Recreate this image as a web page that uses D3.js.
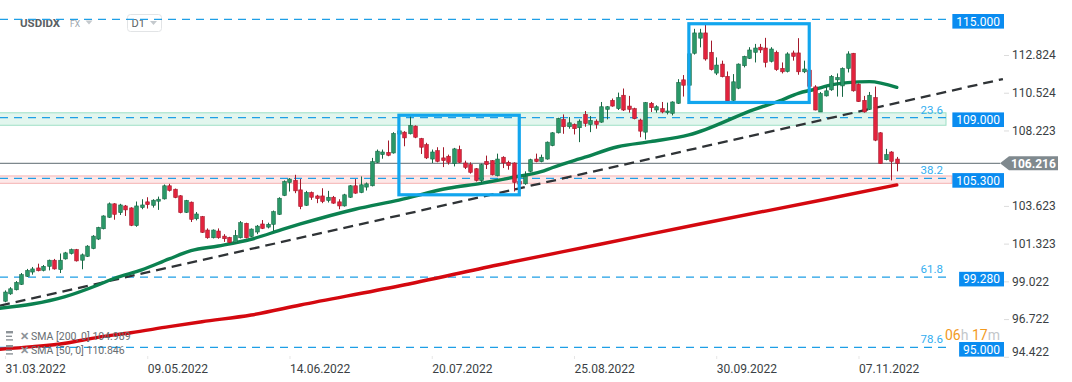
<!DOCTYPE html>
<html><head><meta charset="utf-8">
<script src="https://cdn.jsdelivr.net/npm/d3@7"></script>
<style>
html,body{margin:0;padding:0;background:#fff;}
svg{display:block;font-family:Roboto,"Open Sans",sans-serif;}
</style></head><body>
<svg id="chart" width="1072" height="382"></svg>
<script>
// ---------- DATA ----------
const opens = [97.81,98.26,98.51,98.84,99.33,99.59,99.84,99.69,99.94,100.31,99.74,100.39,100.72,100.96,100.31,100.55,101.02,101.60,102.23,102.93,
103.75,103.21,103.62,103.50,102.42,103.52,103.87,103.66,103.91,104.05,104.85,104.64,104.24,103.23,103.85,102.84,102.97,102.15,101.68,102.09,
101.78,101.70,101.39,101.68,102.56,101.76,102.03,102.52,102.33,102.50,103.11,104.26,105.05,105.18,104.60,103.66,104.44,104.23,104.23,103.95,
104.15,103.87,103.62,104.15,104.85,104.44,104.77,104.85,106.28,106.75,106.89,106.85,108.00,108.12,108.02,108.49,107.73,107.36,106.48,106.99,
106.55,106.65,106.20,107.06,106.24,106.14,105.89,105.16,106.34,106.38,105.46,106.59,106.28,106.24,105.10,104.97,105.73,106.48,106.32,106.48,
107.30,108.08,108.90,108.45,108.59,108.39,109.20,108.59,108.79,108.73,109.51,110.06,109.55,110.37,109.71,109.55,108.86,108.12,109.88,109.47,
109.55,109.31,109.27,109.88,111.31,110.98,112.93,113.85,114.17,112.99,111.72,112.27,111.52,110.06,110.80,112.17,112.62,112.99,113.30,113.25,
112.44,112.99,112.01,111.82,112.95,112.95,111.80,111.90,110.88,109.35,110.33,110.70,111.31,110.94,112.01,112.93,111.04,110.06,109.51,110.23,
108.08,106.44,106.91,106.48];
const highs = [98.47,98.67,99.04,99.53,99.78,99.90,100.10,100.02,100.35,100.39,100.72,100.82,101.02,101.00,100.72,101.23,101.84,102.35,103.05,103.83,
103.79,103.75,103.68,103.54,103.89,104.03,104.15,104.03,104.19,104.93,104.97,104.68,104.28,103.99,103.89,103.25,103.01,102.25,102.19,102.25,
101.90,101.74,102.15,102.70,102.60,102.25,102.46,102.76,102.60,103.34,104.15,105.18,105.32,105.52,105.26,104.54,104.50,104.30,104.70,104.54,
104.23,104.03,104.36,104.89,105.26,105.42,105.05,106.55,107.06,107.06,107.61,108.12,108.40,108.18,109.10,108.53,107.77,107.47,107.06,107.20,
107.20,106.75,107.16,107.30,106.38,106.28,105.93,106.20,106.69,106.42,106.81,106.65,106.38,106.28,105.30,105.73,106.50,106.81,106.75,107.55,
108.12,109.00,109.20,109.04,108.65,108.90,109.41,109.10,108.90,109.96,109.71,110.17,110.53,110.78,110.33,109.61,108.94,109.96,109.96,109.76,
109.96,109.92,110.00,111.35,111.60,113.10,114.42,114.42,114.73,113.70,112.68,112.48,111.82,111.66,112.31,112.78,113.30,113.50,113.50,113.87,
113.30,113.09,112.37,112.99,113.09,113.85,112.48,112.10,110.98,110.57,110.94,111.60,111.70,112.07,113.05,112.95,111.09,110.33,110.57,110.90,
108.12,107.10,106.96,106.61];
const lows = [97.75,98.20,98.47,98.80,99.29,99.43,99.63,99.63,99.69,99.74,99.53,100.35,100.66,100.23,99.76,100.51,100.98,101.54,102.19,102.89,
102.78,103.07,103.01,102.39,102.35,103.42,103.46,103.52,103.38,104.01,104.50,104.09,103.17,103.19,102.64,102.74,101.97,101.62,101.64,101.62,
101.43,101.35,101.33,101.64,101.64,101.72,101.90,102.21,102.25,102.09,103.07,104.22,104.50,104.40,103.42,103.62,103.99,103.79,103.79,103.83,
103.75,103.42,103.58,104.11,104.36,104.40,104.56,104.81,106.24,106.50,106.65,106.81,107.90,107.26,107.98,107.75,106.79,106.48,106.24,106.28,
105.99,106.14,106.03,106.24,105.87,105.59,105.11,105.01,105.87,105.48,105.42,105.93,105.83,104.50,104.70,104.91,105.67,106.28,106.28,106.44,
107.26,108.04,108.02,108.33,107.98,107.51,108.45,108.12,108.33,108.69,108.90,109.67,109.47,109.41,109.31,108.90,107.81,107.67,109.35,109.31,
109.27,109.20,109.14,109.84,110.29,110.80,112.85,113.29,112.48,111.88,111.60,111.46,109.98,110.02,110.74,112.07,112.58,112.37,112.95,112.07,
112.37,111.86,111.70,111.76,112.48,111.62,111.72,110.80,109.45,109.35,110.29,110.64,110.29,110.27,111.76,110.59,109.96,109.31,109.47,107.57,
106.18,106.40,105.18,105.73];
const closes = [98.37,98.57,98.96,99.43,99.69,99.78,99.67,99.94,100.31,99.78,100.31,100.76,100.96,100.27,100.64,101.17,101.78,102.31,103.01,103.75,
103.11,103.68,103.38,102.44,103.62,103.68,103.70,103.97,104.03,104.85,104.56,104.13,103.21,103.95,102.80,103.13,102.01,101.68,102.15,101.68,
101.62,101.39,101.82,102.60,101.68,102.21,102.39,102.25,102.50,103.27,104.09,105.11,105.26,104.54,103.58,104.44,104.15,104.07,103.89,104.15,
103.79,103.62,104.30,104.85,104.40,104.91,104.97,106.32,106.96,106.91,106.71,108.04,108.20,107.77,108.53,107.81,107.20,106.55,106.91,106.34,
106.38,106.28,107.10,106.28,105.97,105.67,105.17,106.14,106.14,105.52,106.48,106.24,106.08,105.05,104.95,105.42,106.44,106.32,106.59,107.51,
108.08,108.96,108.45,108.69,108.33,108.79,108.65,108.84,108.59,109.67,109.67,109.71,110.23,109.47,109.51,108.94,108.18,109.92,109.61,109.67,
109.35,109.41,109.96,111.15,110.98,112.90,114.17,114.17,112.58,111.93,112.21,111.50,110.02,111.19,112.27,112.74,113.13,113.25,113.13,112.37,
113.19,111.93,111.80,112.89,112.74,111.80,111.97,110.90,109.47,110.47,110.64,111.52,111.45,112.01,112.89,110.64,109.98,109.35,110.37,107.63,
106.20,106.75,106.34,106.216];

const xTickIndex  = [0, 26, 52, 78, 104, 130, 156];
const xTickLabels = ["31.03.2022","09.05.2022","14.06.2022","20.07.2022","25.08.2022","30.09.2022","07.11.2022"];
const yTickValues = [112.824, 110.524, 108.223, 103.623, 101.323, 99.022, 96.722, 94.422];

const levelValues = [115, 109, 105.3, 99.28, 95];
const levelLabels = ["115.000","109.000","105.300","99.280","95.000"];
const fibValues = [109, 105.3, 99.28, 95];
const fibLabels = ["23.6","38.2","61.8","78.6"];
const bandTop    = [109.30, 105.45];
const bandBottom = [108.54, 105.00];

const sma50Idx = [-1,5,11,17,20,25,30,34,39,45,51,54,64,72,81,87,93,98,100,106,112,118,125,137,142,145,148,151,154,158,163];
const sma50Val = [97.38,97.64,98.09,98.80,99.21,99.72,100.39,100.89,101.18,101.59,102.22,102.52,103.42,103.98,104.70,105.00,105.37,105.71,105.95,106.59,107.23,107.54,107.95,109.51,110.08,110.49,110.73,111.00,111.14,111.20,110.85];
const sma200Idx = [-1,5,11,17,23,30,36,45,54,72,90,109,127,150,163];
const sma200Val = [94.88,95.04,95.25,95.61,95.89,96.26,96.56,96.97,97.58,98.74,100.02,101.30,102.52,104.03,104.90];

const trendIdx = [-0.914, 182.4];
const trendVal = [97.54, 111.36];

const boxStartIdx = [72, 125];
const boxEndIdx   = [94, 147];
const boxTop      = [109.15, 114.73];
const boxBottom   = [104.30, 109.93];

const lastPrice = 106.216;
const legendLines = ["SMA  [200,  0] 104.989", "SMA  [50,  0] 110.846"];

// ---------- CHART ----------
const svg = d3.select("#chart");
const n = closes.length;
const x = d3.scaleLinear().domain([0, n - 1]).range([5, 5 + (n - 1) * 5.471]);
const y = d3.scaleLinear().domain([94.422, 112.824]).range([356.8, 55]);

const levelColor = "#1e9fe6";
const levelEnd = 947;

// bands
const bandFill = ["#e2f6ee", "#fde8e8"], bandStroke = ["#9ddfc6", "#f4b3b3"], bandRight = [946, 952];
bandTop.forEach((t, i) => {
  svg.append("rect").attr("x", -1).attr("y", y(t)).attr("width", bandRight[i] + 1)
    .attr("height", y(bandBottom[i]) - y(t))
    .attr("fill", bandFill[i]).attr("stroke", bandStroke[i]).attr("stroke-width", 1);
});

// header
const hdr = svg.append("g");
hdr.append("text").attr("x", 20).attr("y", 27).attr("font-size", 11.5).attr("font-weight", "bold")
  .attr("fill", "#5a5f63").text("USDIDX");
hdr.append("text").attr("x", 70).attr("y", 27).attr("font-size", 8.5).attr("fill", "#9aa3ab").text("FX");
hdr.append("path").attr("d", "M85.5,20.5 L92.5,20.5 L89,24.5 Z").attr("fill", "#c4c9cd");
hdr.append("rect").attr("x", 127.5).attr("y", 14.5).attr("width", 34).attr("height", 17).attr("rx", 3)
  .attr("fill", "#fff").attr("stroke", "#e2e4e6");
hdr.append("text").attr("x", 131.5).attr("y", 27).attr("font-size", 11).attr("fill", "#5a5f63").text("D1");
hdr.append("path").attr("d", "M150,21 L157,21 L153.5,25 Z").attr("fill", "#c4c9cd");

// level dashed lines
levelValues.forEach(v => {
  svg.append("line").attr("x1", 0).attr("x2", levelEnd).attr("y1", y(v)).attr("y2", y(v))
    .attr("stroke", levelColor).attr("stroke-width", 1.3).attr("stroke-dasharray", "8,6");
});

// fib labels
fibValues.forEach((v, i) => {
  svg.append("text").attr("x", 943).attr("y", y(v) - 4).attr("text-anchor", "end")
    .attr("font-size", 11.5).attr("fill", "#33aef0").text(fibLabels[i]);
});

// current price line
svg.append("line").attr("x1", 0).attr("x2", 1000).attr("y1", y(lastPrice)).attr("y2", y(lastPrice))
  .attr("stroke", "#7e888d").attr("stroke-width", 1.2);

// trendline
svg.append("line").attr("x1", x(trendIdx[0])).attr("y1", y(trendVal[0]))
  .attr("x2", x(trendIdx[1])).attr("y2", y(trendVal[1]))
  .attr("stroke", "#2f3336").attr("stroke-width", 2.3).attr("stroke-dasharray", "10,6");

// SMAs
const line = d3.line().x(d => x(d[0])).y(d => y(d[1])).curve(d3.curveMonotoneX);
svg.append("path").datum(sma200Idx.map((d, i) => [d, sma200Val[i]])).attr("d", line)
  .attr("fill", "none").attr("stroke", "#d4080f").attr("stroke-width", 3.4).attr("stroke-linecap", "round");
svg.append("path").datum(sma50Idx.map((d, i) => [d, sma50Val[i]])).attr("d", line)
  .attr("fill", "none").attr("stroke", "#0b8150").attr("stroke-width", 3.4).attr("stroke-linecap", "round");

// candles
const upFill = "#2a9868", upEdge = "#176844", dnFill = "#e2233d", dnEdge = "#a3192b";
const cg = svg.append("g");
d3.range(n).forEach(i => {
  const up = closes[i] >= opens[i];
  const cx = Math.round(x(i)) + 0.5;
  cg.append("line").attr("x1", cx).attr("x2", cx).attr("y1", y(highs[i])).attr("y2", y(lows[i]))
    .attr("stroke", up ? upEdge : dnEdge).attr("stroke-width", 1);
  const top = y(Math.max(opens[i], closes[i])), bot = y(Math.min(opens[i], closes[i]));
  cg.append("rect").attr("x", cx - 1.8).attr("y", top).attr("width", 3.6).attr("height", Math.max(1, bot - top))
    .attr("fill", up ? upFill : dnFill).attr("stroke", up ? upEdge : dnEdge).attr("stroke-width", 0.6);
});

// highlight boxes
boxStartIdx.forEach((s, i) => {
  svg.append("rect").attr("x", x(s)).attr("y", y(boxTop[i]))
    .attr("width", x(boxEndIdx[i]) - x(s)).attr("height", y(boxBottom[i]) - y(boxTop[i]))
    .attr("fill", "none").attr("stroke", "#12a6ee").attr("stroke-width", 3.2);
});

// right axis
const yAxis = svg.append("g").attr("transform", "translate(1004,0)")
  .call(d3.axisRight(y).tickValues(yTickValues).tickSize(5).tickPadding(3).tickFormat(d3.format(".3f")));
yAxis.select(".domain").remove();
yAxis.selectAll(".tick line").attr("stroke", "#dcdcdc");
yAxis.selectAll(".tick text").attr("font-size", 12).attr("fill", "#3a3f44").attr("font-family", "Roboto")
  .attr("transform", d => y(d) > 352 ? `translate(0,${352 - y(d)})` : null);

// level price tags
levelValues.forEach((v, i) => {
  const g = svg.append("g");
  const cy = y(v) + 2;
  const t = g.append("text").attr("x", 1000).attr("y", cy).attr("dy", "0.35em")
    .attr("text-anchor", "end").attr("font-size", 12).attr("fill", "#fff").text(levelLabels[i]);
  const w = t.node().getComputedTextLength();
  g.insert("rect", "text").attr("x", 1004 - w - 8).attr("y", cy - 7.3).attr("width", w + 8).attr("height", 14.6)
    .attr("fill", "#0a8cf0");
});

// current price tag
const py = y(lastPrice);
svg.append("path").attr("d", `M1000,${py} L1009,${py - 7} L1058,${py - 7} L1058,${py + 7} L1009,${py + 7} Z`)
  .attr("fill", "#7f898e");
svg.append("text").attr("x", 1033.5).attr("y", py).attr("dy", "0.35em").attr("text-anchor", "middle")
  .attr("font-size", 12).attr("font-weight", "bold").attr("fill", "#fff").text(d3.format(".3f")(lastPrice));

// x axis
const xAxis = svg.append("g").attr("transform", "translate(0,356)")
  .call(d3.axisBottom(x).tickValues(xTickIndex).tickSize(3).tickPadding(5).tickFormat((d, i) => xTickLabels[i]));
xAxis.select(".domain").remove();
xAxis.selectAll(".tick line").attr("stroke", "#e6e6e6");
xAxis.selectAll(".tick text").attr("text-anchor", "start").attr("font-size", 12).attr("fill", "#3a3f44")
  .attr("font-family", "Roboto");

// countdown
const cd = svg.append("text").attr("x", 945).attr("y", 340).attr("font-size", 14);
cd.append("tspan").attr("fill", "#f39a1e").text("06");
cd.append("tspan").attr("fill", "#c3c7ca").text("h ");
cd.append("tspan").attr("fill", "#f39a1e").text("17");
cd.append("tspan").attr("fill", "#c3c7ca").text("m");

// legend
legendLines.forEach((s, i) => {
  const ly = 336 + i * 14;
  const g = svg.append("g");
  [0, 3, 6].forEach(k => g.append("rect").attr("x", 6).attr("y", ly - 4 + k * 1.2).attr("width", k === 3 ? 6 : 7).attr("height", 1.4).attr("fill", "#8d9398"));
  g.append("rect").attr("x", 6).attr("y", ly - 5).attr("width", 7).attr("height", 2).attr("fill", "#8d9398");
  g.append("text").attr("x", 20).attr("y", ly).attr("dy", "0.35em").attr("font-size", 11).attr("font-weight", "bold")
    .attr("fill", "#8d9398").text("✕");
  g.append("text").attr("x", 31).attr("y", ly).attr("dy", "0.35em").attr("font-size", 10.5)
    .attr("fill", "#676d72").text(s);
});
</script>
</body></html>
